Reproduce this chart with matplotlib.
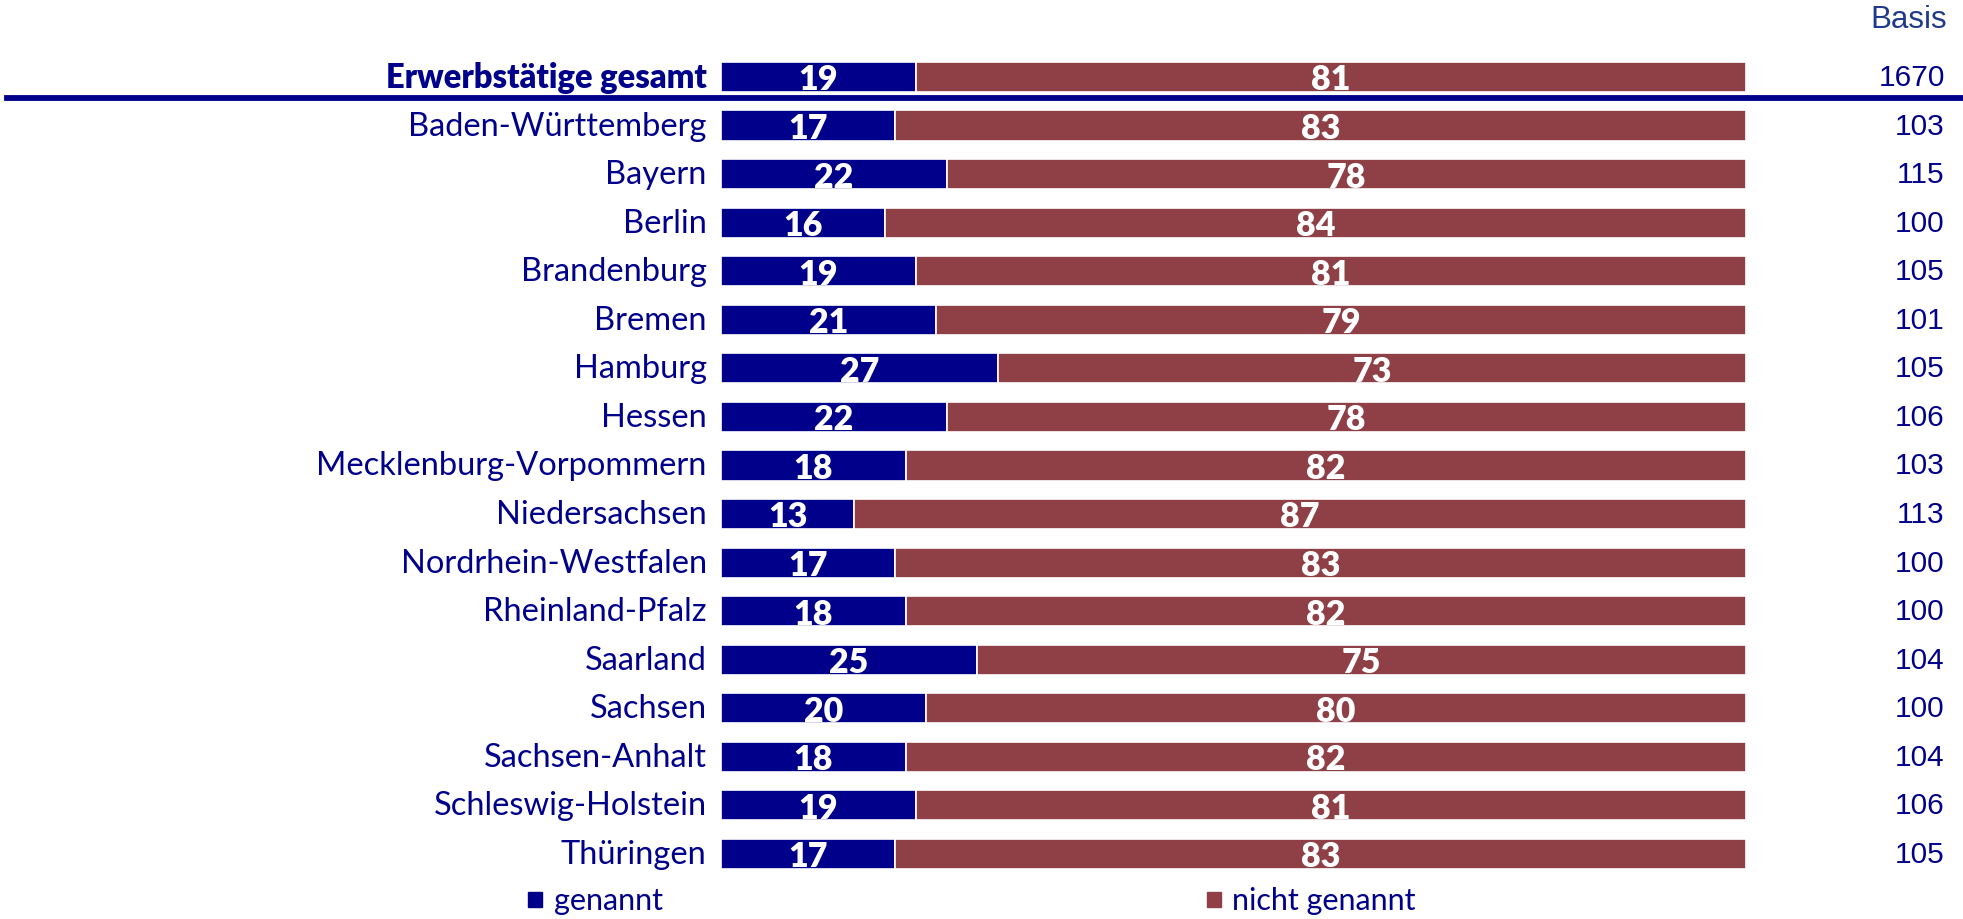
import matplotlib.pyplot as plt

# Categories (top row is the total)
labels = ["Erwerbstätige gesamt", "Baden-Württemberg", "Bayern", "Berlin",
          "Brandenburg", "Bremen", "Hamburg", "Hessen",
          "Mecklenburg-Vorpommern", "Niedersachsen", "Nordrhein-Westfalen",
          "Rheinland-Pfalz", "Saarland", "Sachsen", "Sachsen-Anhalt",
          "Schleswig-Holstein", "Thüringen"]

# Share in percent
genannt = [19, 17, 22, 16, 19, 21, 27, 22, 18, 13, 17, 18, 25, 20, 18, 19, 17]
nicht_genannt = [81, 83, 78, 84, 81, 79, 73, 78, 82, 87, 83, 82, 75, 80, 82, 81, 83]

# Sample sizes
basis = [1670, 103, 115, 100, 105, 101, 105, 106, 103, 113, 100, 100, 104, 100, 104, 106, 105]

blue = "#00008B"
red = "#8E4046"
basis_color = "#1F3A8A"

plt.rcParams["font.family"] = ["Lato", "DejaVu Sans"]

fig = plt.figure(figsize=(19.63, 9.20), dpi=100)
W, H = 1963, 920
ax = fig.add_axes([721 / W, 0, 1025 / W, 1])
ax.set_xlim(0, 100)
ax.set_ylim(17.34, -1.606)
ax.axis("off")

rows = list(range(len(labels)))
bar_h = 0.62

ax.barh(rows, genannt, height=bar_h, color=blue, edgecolor="white", linewidth=1.2)
ax.barh(rows, nicht_genannt, left=genannt, height=bar_h, color=red,
        edgecolor="white", linewidth=1.2)

for i in rows:
    g = genannt[i]
    n = nicht_genannt[i]
    ax.text(g / 2, i + 0.05, str(g), ha="center", va="center", color="white",
            fontsize=24.5, fontweight="heavy")
    ax.text(g + n / 2, i + 0.05, str(n), ha="center", va="center", color="white",
            fontsize=24.5, fontweight="heavy")
    ax.text(-1.4, i, labels[i], ha="right", va="center", color=blue,
            fontsize=23.5, fontweight="heavy" if i == 0 else "normal", clip_on=False)
    ax.text(119.4, i, str(basis[i]), ha="right", va="center", color=blue,
            fontsize=21.5, family="Liberation Sans", clip_on=False)

ax.text(119.6, -1.2, "Basis", ha="right", va="center", color=basis_color,
        fontsize=22.5, family="Liberation Sans", clip_on=False)

# separator line under the total row
fig.add_artist(plt.Line2D([7 / W, 1.0], [1 - 99 / H, 1 - 99 / H],
                          color=blue, linewidth=4.2))

# legend
fig.patches.append(plt.Rectangle((528 / W, 1 - 908 / H), 14 / W, 15 / H,
                                 color=blue, transform=fig.transFigure))
fig.text(554 / W, 1 - 901 / H, "genannt", ha="left", va="center",
         color=blue, fontsize=22)
fig.patches.append(plt.Rectangle((1207 / W, 1 - 908 / H), 14 / W, 15 / H,
                                 color=red, transform=fig.transFigure))
fig.text(1232 / W, 1 - 901 / H, "nicht genannt", ha="left", va="center",
         color=blue, fontsize=22)

fig.savefig("out.png", dpi=100)
